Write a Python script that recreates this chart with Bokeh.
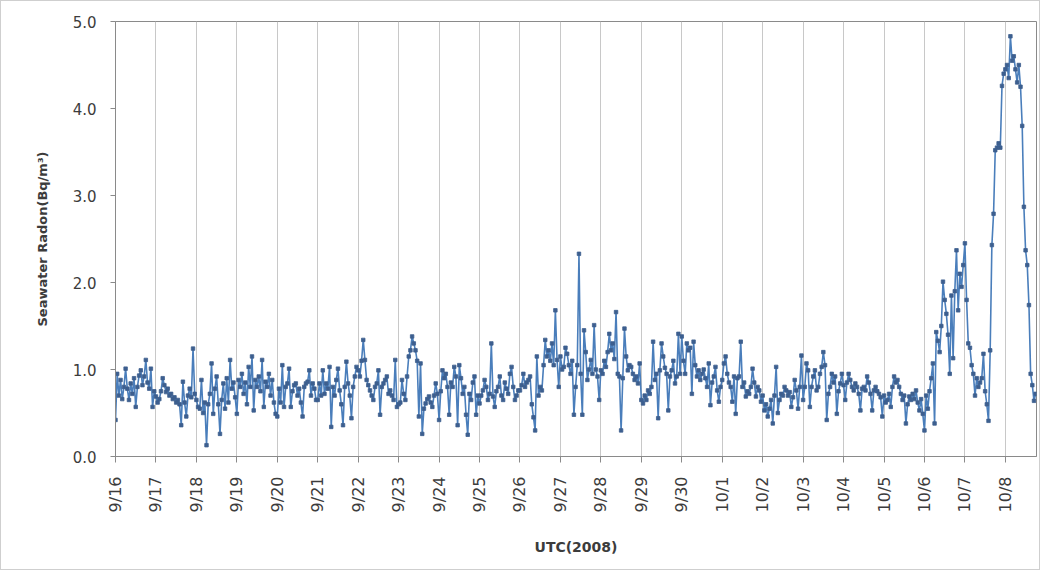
from bokeh.plotting import figure
from bokeh.models import Range1d, FixedTicker, ColumnDataSource
from bokeh.embed import file_html
from bokeh.resources import INLINE

# Day tick labels (UTC 2008), one tick per day starting 9/16 00:00
DAY_LABELS = ["9/16", "9/17", "9/18", "9/19", "9/20", "9/21", "9/22", "9/23",
              "9/24", "9/25", "9/26", "9/27", "9/28", "9/29", "9/30", "10/1",
              "10/2", "10/3", "10/4", "10/5", "10/6", "10/7", "10/8"]
Y_TICKS = [0.0, 1.0, 2.0, 3.0, 4.0, 5.0]

# Hourly seawater radon (Bq/m3), one list per day
d0916 = [0.42, 0.95, 0.70, 0.88, 0.66, 0.80, 1.01, 0.78, 0.65, 0.84, 0.72, 0.90,
         0.57, 0.80, 0.93, 0.99, 0.82, 0.92, 1.11, 0.85, 0.78, 1.01, 0.57, 0.75]
d0917 = [0.69, 0.62, 0.66, 0.75, 0.90, 0.82, 0.74, 0.78, 0.70, 0.72, 0.66, 0.68,
         0.62, 0.65, 0.60, 0.36, 0.86, 0.62, 0.46, 0.70, 0.78, 0.68, 1.24, 0.72]
d0918 = [0.65, 0.57, 0.55, 0.88, 0.50, 0.62, 0.13, 0.60, 0.72, 1.07, 0.49, 0.78,
         0.92, 0.60, 0.26, 0.65, 0.84, 0.55, 0.90, 0.62, 1.11, 0.78, 0.85, 0.68]
d0919 = [0.49, 0.88, 0.80, 0.95, 0.72, 0.85, 0.60, 1.03, 0.80, 1.15, 0.53, 0.88,
         0.80, 0.92, 0.75, 1.11, 0.57, 0.86, 0.80, 0.95, 0.70, 0.88, 0.62, 0.49]
d0920 = [0.46, 0.78, 0.62, 1.05, 0.57, 0.80, 0.84, 1.01, 0.57, 0.75, 0.82, 0.84,
         0.70, 0.78, 0.62, 0.46, 0.80, 0.84, 0.86, 0.99, 0.70, 0.84, 0.78, 0.65]
d0921 = [0.65, 0.84, 0.70, 0.99, 0.72, 0.84, 0.78, 1.03, 0.34, 0.80, 0.70, 0.88,
         1.01, 0.76, 0.60, 0.36, 0.80, 1.09, 0.84, 0.70, 0.44, 0.80, 0.92, 1.03]
d0922 = [0.99, 0.92, 1.10, 1.34, 1.11, 0.88, 0.82, 0.76, 0.70, 0.65, 0.80, 0.84,
         0.99, 0.48, 0.80, 0.84, 0.88, 0.92, 0.72, 0.76, 0.70, 0.65, 1.11, 0.57]
d0923 = [0.60, 0.62, 0.88, 0.72, 0.65, 0.92, 1.15, 1.22, 1.38, 1.30, 1.22, 1.10,
         0.46, 1.07, 0.26, 0.55, 0.61, 0.66, 0.69, 0.62, 0.57, 0.70, 0.84, 0.72]
d0924 = [0.42, 0.75, 0.99, 0.90, 0.95, 0.80, 0.48, 0.85, 0.80, 1.03, 0.92, 0.36,
         1.05, 0.90, 0.72, 0.80, 0.48, 0.25, 0.72, 0.65, 0.85, 0.92, 0.48, 0.70]
d0925 = [0.61, 0.70, 0.76, 0.88, 0.80, 0.65, 0.72, 1.30, 0.69, 0.57, 0.75, 0.80,
         0.92, 0.70, 0.65, 0.85, 0.78, 0.72, 0.95, 1.03, 0.80, 0.65, 0.70, 0.76]
d0926 = [0.76, 0.82, 0.95, 0.80, 0.85, 0.88, 0.92, 0.60, 0.45, 0.30, 1.15, 0.70,
         0.80, 0.76, 1.05, 1.34, 1.15, 1.22, 1.10, 1.30, 1.05, 1.68, 1.11, 0.80]
d0927 = [1.15, 1.00, 1.03, 1.25, 1.18, 1.05, 0.95, 1.10, 0.48, 0.80, 1.05, 2.33,
         0.95, 0.48, 1.45, 1.20, 0.88, 1.00, 1.11, 0.95, 1.51, 1.00, 0.92, 0.65]
d0928 = [0.99, 0.95, 1.10, 1.03, 1.20, 1.41, 1.22, 1.30, 1.12, 1.66, 0.95, 0.92,
         0.30, 0.90, 1.47, 1.15, 0.99, 1.05, 1.03, 0.95, 0.88, 0.92, 0.84, 1.07]
d0929 = [0.65, 0.61, 0.70, 0.65, 0.76, 0.72, 0.80, 1.32, 0.88, 0.95, 0.44, 0.99,
         1.30, 1.15, 1.02, 0.95, 0.53, 0.92, 0.99, 1.10, 0.84, 0.92, 1.41, 0.95]
d0930 = [1.38, 1.10, 0.95, 1.30, 1.22, 1.25, 0.72, 1.32, 1.05, 0.92, 0.99, 0.88,
         0.95, 1.00, 0.90, 0.80, 1.07, 0.59, 0.85, 0.92, 1.03, 0.76, 0.63, 0.80]
d1001 = [0.88, 1.07, 1.15, 0.95, 0.85, 0.80, 0.63, 0.92, 0.49, 0.90, 0.92, 1.32,
         0.80, 0.85, 0.69, 0.75, 0.72, 0.80, 1.01, 0.85, 0.69, 0.80, 0.76, 0.63]
d1002 = [0.70, 0.53, 0.60, 0.46, 0.55, 0.65, 0.38, 0.70, 1.03, 0.50, 0.65, 0.72,
         0.70, 0.80, 0.76, 0.70, 0.74, 0.57, 0.68, 0.88, 0.76, 0.55, 0.80, 1.16]
d1003 = [0.65, 0.80, 1.07, 0.99, 0.57, 0.80, 0.92, 0.99, 0.76, 0.80, 0.95, 1.03,
         1.20, 1.05, 0.42, 0.72, 0.80, 0.95, 0.85, 0.92, 0.49, 0.75, 0.84, 0.95]
d1004 = [0.82, 0.65, 0.85, 0.95, 0.88, 0.80, 0.76, 0.84, 0.80, 0.72, 0.53, 0.78,
         0.80, 0.76, 0.92, 0.85, 0.72, 0.53, 0.76, 0.80, 0.75, 0.72, 0.68, 0.46]
d1005 = [0.70, 0.62, 0.65, 0.72, 0.57, 0.80, 0.92, 0.85, 0.88, 0.80, 0.72, 0.65,
         0.70, 0.38, 0.60, 0.69, 0.65, 0.72, 0.66, 0.76, 0.62, 0.53, 0.66, 0.49]
d1006 = [0.30, 0.70, 0.55, 0.75, 0.90, 1.07, 0.38, 1.43, 1.33, 1.20, 1.50, 2.01,
         1.80, 1.64, 1.40, 0.95, 1.85, 1.13, 1.90, 2.37, 1.68, 2.10, 1.95, 2.20]
d1007 = [2.45, 1.80, 1.30, 1.25, 1.05, 0.95, 0.70, 0.90, 0.80, 0.85, 0.90, 1.18,
         0.75, 0.60, 0.41, 1.22, 2.43, 2.79, 3.52, 3.55, 3.60, 3.55, 4.26, 4.40]
d1008 = [4.45, 4.50, 4.35, 4.83, 4.55, 4.60, 4.45, 4.30, 4.50, 4.25, 3.80, 2.87,
         2.37, 2.20, 1.74, 0.95, 0.82, 0.64, 0.72]

DAYS = [d0916, d0917, d0918, d0919, d0920, d0921, d0922, d0923, d0924, d0925,
        d0926, d0927, d0928, d0929, d0930, d1001, d1002, d1003, d1004, d1005,
        d1006, d1007, d1008]

values = []
times = []
for di, day in enumerate(DAYS):
    for h, v in enumerate(day):
        times.append(di + h / 24.0)
        values.append(v)

src = ColumnDataSource(dict(t=times, v=values))

FONT = "DejaVu Sans"

p = figure(width=1040, height=570, output_backend="svg", toolbar_location=None,
           x_range=Range1d(0, 22.77), y_range=Range1d(0, 5),
           min_border_left=114, min_border_right=5, min_border_top=20,
           min_border_bottom=115, background_fill_color="white",
           border_fill_color="white")
p.styles = {"border": "1px solid #cfcfcf"}

p.outline_line_color = "#8a8a8a"
p.outline_line_width = 1

# grid: vertical day lines only
p.ygrid.grid_line_color = None
p.xgrid.grid_line_color = "#c8c8c8"
p.xgrid.grid_line_width = 1

xa = p.xaxis[0]
xa.ticker = FixedTicker(ticks=list(range(len(DAY_LABELS))))
xa.major_label_overrides = {i: lab for i, lab in enumerate(DAY_LABELS)}
xa.major_label_orientation = 1.5707963
xa.minor_tick_line_color = None
xa.major_tick_in = 0
xa.major_tick_out = 6
xa.major_tick_line_color = "#8a8a8a"
xa.axis_line_color = "#8a8a8a"
xa.major_label_standoff = 14
xa.major_label_text_font = FONT
xa.major_label_text_font_size = "16px"
xa.major_label_text_color = "#3c3c3c"
xa.axis_label = "UTC(2008)"
xa.axis_label_text_font = FONT
xa.axis_label_text_font_size = "14px"
xa.axis_label_text_font_style = "bold"
xa.axis_label_text_color = "#3c3c3c"
xa.axis_label_standoff = 24

ya = p.yaxis[0]
ya.ticker = FixedTicker(ticks=Y_TICKS)
ya.major_label_overrides = {t: f"{t:.1f}" for t in Y_TICKS}
ya.minor_tick_line_color = None
ya.major_tick_in = 0
ya.major_tick_out = 5
ya.major_tick_line_color = "#8a8a8a"
ya.axis_line_color = "#8a8a8a"
ya.major_label_standoff = 14
ya.major_label_text_font = FONT
ya.major_label_text_font_size = "15px"
ya.major_label_text_color = "#3c3c3c"
ya.axis_label = "Seawater Radon(Bq/m³)"
ya.axis_label_text_font = FONT
ya.axis_label_text_font_size = "13px"
ya.axis_label_text_font_style = "bold"
ya.axis_label_text_color = "#3c3c3c"
ya.axis_label_standoff = 20

p.line("t", "v", source=src, line_color="#4a7ebb", line_width=1.6)
p.scatter("t", "v", source=src, marker="square", size=3.5,
          fill_color="#3d5f8f", line_color="#3d5f8f", line_alpha=0.8)

open("out.html", "w").write(file_html(p, INLINE))
